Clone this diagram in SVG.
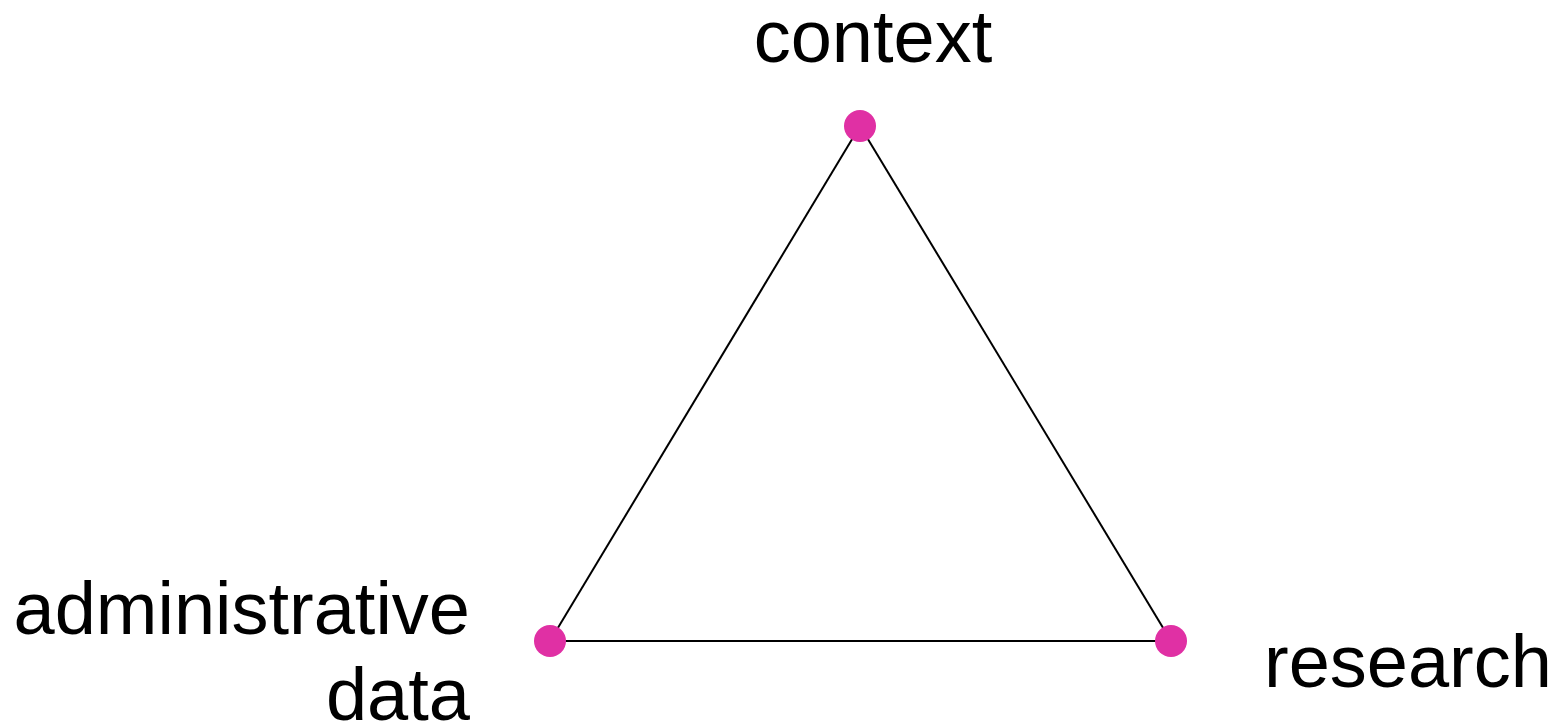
<svg xmlns="http://www.w3.org/2000/svg" width="1560" height="728" viewBox="0 0 1560 728">
  <style>
    .label { font-family: "Liberation Sans", Arial, sans-serif; font-size: 74px; fill: #000; }
    .dot { fill: #e030a4; }
    .edge { stroke: #000; stroke-width: 2; fill: none; }
  </style>
  <rect width="1560" height="728" fill="#fff"/>
  <g id="connectors">
    <line class="edge" x1="860" y1="126" x2="550" y2="641"/>
    <line class="edge" x1="860" y1="126" x2="1171" y2="641"/>
    <line class="edge" x1="550" y1="641" x2="1171" y2="641"/>
  </g>
  <g id="context">
    <circle class="dot" cx="860" cy="126" r="16"/>
    <text class="label" x="873" y="62" text-anchor="middle">context</text>
  </g>
  <g id="administrative-data">
    <circle class="dot" cx="550" cy="641" r="16"/>
    <text class="label" x="470" y="634" text-anchor="end">administrative</text>
    <text class="label" x="470" y="720" text-anchor="end">data</text>
  </g>
  <g id="research">
    <circle class="dot" cx="1171" cy="641" r="16"/>
    <text class="label" x="1264" y="687">research</text>
  </g>
</svg>
